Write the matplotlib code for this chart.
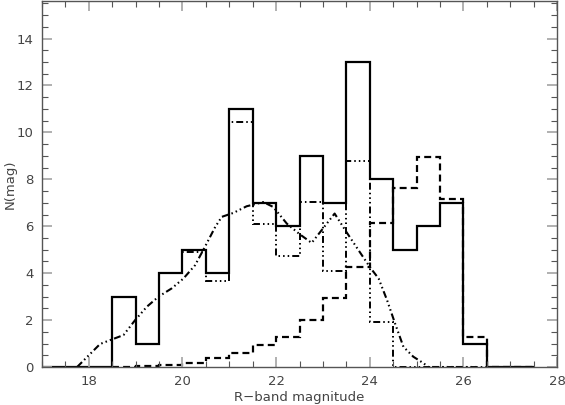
import matplotlib
matplotlib.use("Agg")
import matplotlib.pyplot as plt
from matplotlib.ticker import MultipleLocator
import numpy as np

plt.rcParams['lines.scale_dashes'] = False

# Histogram bin edges (0.5 mag bins)
solid_edges = np.arange(17.0, 27.51, 0.5)
solid_counts = [0, 0, 0, 3, 1, 4, 5, 4, 11, 7, 6, 9, 7, 13, 8, 5, 6, 7, 1, 0, 0]

dashed_edges = np.arange(18.5, 27.51, 0.5)
dashed_counts = [0.0, 0.03, 0.08, 0.15, 0.37, 0.6, 0.94, 1.3, 2.0, 2.93, 4.25,
                 6.12, 7.65, 8.95, 7.18, 1.29, 0, 0]

dashdot_edges = np.arange(18.5, 26.51, 0.5)
dashdot_counts = [3, 1, 4, 4.9, 3.65, 10.45, 6.1, 4.72, 7.03, 4.08, 8.78, 1.9,
                  0, 0, 0, 0]

# Smooth model curve
curve_x = [17.75, 18.24, 18.5, 18.74, 18.99, 19.24, 19.49, 19.77, 20.02, 20.27,
           20.48, 20.7, 20.84, 21.09, 21.37, 21.73, 21.94, 22.23, 22.51, 22.76,
           23.0, 23.25, 23.5, 23.76, 24.01, 24.19, 24.37, 24.54, 24.72, 24.93,
           25.15, 25.25, 26.3]
curve_y = [0.0, 0.98, 1.18, 1.36, 2.0, 2.57, 3.0, 3.35, 3.77, 4.34,
           5.12, 5.97, 6.4, 6.57, 6.85, 7.03, 6.82, 6.11, 5.65, 5.29,
           5.9, 6.54, 5.76, 4.98, 4.24, 3.77, 2.85, 1.86, 0.86, 0.44,
           0.16, 0.0, 0.0]

fig = plt.figure(figsize=(5.65, 4.05), dpi=100)
ax = fig.add_axes([42/565, 38/405, (557-42)/565, (405-38-1)/405])

dddd = (0, (5, 2.2, 1.1, 2.2, 1.1, 2.2, 1.1, 2.2))

ax.stairs(solid_counts, solid_edges, color='black', linewidth=1.6, baseline=None)
ax.stairs(dashdot_counts, dashdot_edges, color='black', linewidth=1.4,
          linestyle=dddd, baseline=None)
ax.stairs(dashed_counts, dashed_edges, color='black', linewidth=1.6,
          linestyle=(0, (5, 3)), baseline=None)
ax.plot(curve_x, curve_y, color='black', linewidth=1.5, linestyle=dddd)

ax.set_xlim(17, 28)
ax.set_ylim(0, 15.6)

ax.xaxis.set_major_locator(MultipleLocator(2))
ax.xaxis.set_minor_locator(MultipleLocator(0.5))
ax.yaxis.set_major_locator(MultipleLocator(2))
ax.yaxis.set_minor_locator(MultipleLocator(0.5))

for s in ax.spines.values():
    s.set_color('#555555')
    s.set_linewidth(1.0)

ax.tick_params(which='major', direction='in', length=7, width=1.3,
               color='#aaaaaa', top=True, right=True, labelsize=9.5,
               labelcolor='#444444', pad=6)
ax.tick_params(which='minor', direction='in', length=4, width=0.8,
               color='#555555', top=True, right=True)

ax.set_xlabel('R\u2212band magnitude', fontsize=9.5, color='#444444', labelpad=2)
ax.set_ylabel('N(mag)', fontsize=9.5, color='#444444')
ax.yaxis.set_label_coords(-0.05, 0.5)

fig.savefig('out.png', dpi=100)
